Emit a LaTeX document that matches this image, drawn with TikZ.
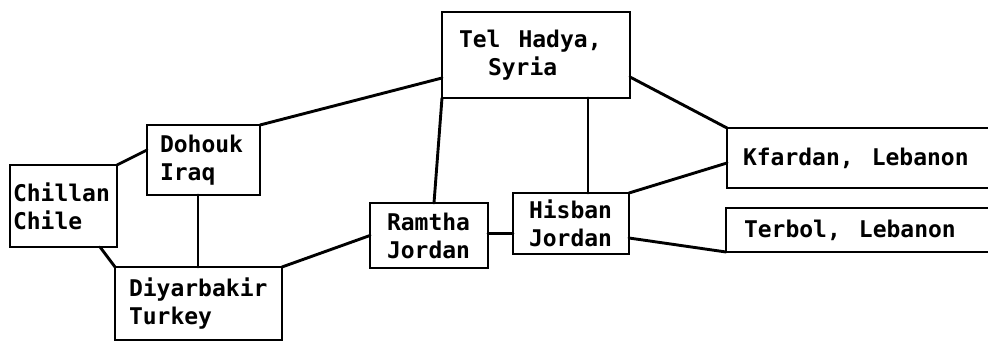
\documentclass[tikz,border=0pt]{standalone}
\usepackage{fontspec}
\setmainfont{DejaVu Sans Mono}
\hyphenpenalty=10000
\exhyphenpenalty=10000
\frenchspacing
\newcommand{\boxfont}{\bfseries\fontsize{23}{28}\selectfont}
\newcommand{\wsp}{\hspace*{18pt}}
\begin{document}
\begin{tikzpicture}[x=1pt,y=1pt,
  box/.style={draw, line width=2.9pt, rectangle, anchor=north west, inner ysep=0pt, outer sep=0pt,
    align=left, font=\boxfont},
  link/.style={line width=2.9pt, line cap=round}]
\useasboundingbox (0,0) rectangle (988,-342);
\node[box, inner xsep=17pt, text width=154pt, minimum height=86pt] (telhadya) at (442,-12) {Tel\wsp Hadya,\\\hspace*{29pt}Syria};
\node[box, inner xsep=13pt, text width=87pt, minimum height=70pt] (dohouk) at (147,-125) {Dohouk\\Iraq};
\node[box, inner xsep=3pt, text width=101pt, minimum height=82pt] (chillan) at (10,-165) {Chillan\\Chile};
\node[box, inner xsep=14pt, text width=139pt, minimum height=73pt] (diyarbakir) at (115,-267) {Diyarbakir\\Turkey};
\node[box, inner xsep=17pt, text width=84pt, minimum height=65pt] (ramtha) at (370,-203) {Ramtha\\Jordan};
\node[box, inner xsep=16pt, text width=84pt, minimum height=61pt] (hisban) at (513,-193) {Hisban\\Jordan};
\node[box, inner xsep=16pt, text width=241pt, minimum height=60pt] (kfardan) at (727,-128) {Kfardan,\wsp Lebanon};
\node[box, inner xsep=18pt, text width=238pt, minimum height=44pt] (terbol) at (726,-208) {Terbol,\wsp Lebanon};
\draw[link] (chillan.north east) -- ([yshift=-25pt]dohouk.north west);
\draw[link] (dohouk.north east) -- ([yshift=20pt]telhadya.south west);
\draw[link] ([xshift=-5.5pt]dohouk.south) -- ([xshift=-5.5pt]dohouk.south |- diyarbakir.north);
\draw[link] ([xshift=-17pt]chillan.south east) -- (diyarbakir.north west);
\draw[link] (diyarbakir.north east) -- (ramtha.west);
\draw[link] (telhadya.south west) -- ([xshift=64pt]ramtha.north west);
\draw[link] ([xshift=75pt]hisban.north west |- telhadya.south) -- ([xshift=75pt]hisban.north west);
\draw[link] ([yshift=2pt]ramtha.east) -- ([yshift=2pt]ramtha.east -| hisban.west);
\draw[link] ([yshift=21pt]telhadya.south east) -- (kfardan.north west);
\draw[link] (hisban.north east) -- ([yshift=-35pt]kfardan.north west);
\draw[link] ([yshift=16pt]hisban.south east) -- (terbol.south west);
\end{tikzpicture}
\end{document}
